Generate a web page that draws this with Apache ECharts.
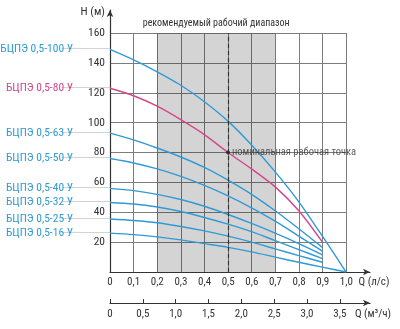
<!DOCTYPE html>
<html><head><meta charset="utf-8">
<script src="https://cdn.jsdelivr.net/npm/echarts@6/dist/echarts.min.js"></script>
<style>html,body{margin:0;padding:0;background:#fff}#c{width:400px;height:329px}</style>
</head><body><div id="c"></div>
<script>
// ---- data ----
const flowLs = [0, 0.1, 0.2, 0.3, 0.4, 0.5, 0.6, 0.7, 0.8, 0.9, 1.0];
const xTickLabels = ['0', '0,1', '0,2', '0,3', '0,4', '0,5', '0,6', '0,7', '0,8', '0,9', '1,0'];
const xAxisName = 'Q (л/с)';
const m3Ticks = [0, 0.5, 1.0, 1.5, 2.0, 2.5, 3.0, 3.5];
const m3Labels = ['0', '0,5', '1,0', '1,5', '2,0', '2,5', '3,0', '3,5'];
const m3AxisName = 'Q (м³/ч)';
const yAxisName = 'H (м)';
const yTicks = [20, 40, 60, 80, 100, 120, 140, 160];

const pumpNames = ['БЦПЭ 0,5-100 У', 'БЦПЭ 0,5-80 У', 'БЦПЭ 0,5-63 У', 'БЦПЭ 0,5-50 У',
                   'БЦПЭ 0,5-40 У', 'БЦПЭ 0,5-32 У', 'БЦПЭ 0,5-25 У', 'БЦПЭ 0,5-16 У'];
const h100 = [149, 142, 134, 125, 114, 101, 85, 67, 47, 24, 0];
const h80  = [123, 118, 111, 102, 92, 80, 69, 57, 41, 20];
const h63  = [93, 88.5, 83, 77, 70, 61.5, 52, 41, 29, 16.5];
const h50  = [76, 73, 69, 64, 58, 51, 43, 34, 24, 14];
const h40  = [56, 54.5, 52, 48.5, 44, 38.5, 32.5, 26, 19, 11.5];
const h32  = [46.5, 45.5, 43.5, 40.5, 36.5, 32, 27, 21, 15, 9];
const h25  = [35.5, 34.5, 33, 30.5, 27.5, 24, 20, 15.5, 11, 6.5];
const h16  = [26, 25, 23.5, 21.5, 19, 16.5, 13.5, 10, 6.5, 3.3, 0];

const rangeBand = [0.2, 0.7];
const rangeTitle = 'рекомендуемый рабочий диапазон';
const nominalPoint = [0.5, 80];
const nominalLabel = 'номинальная рабочая точка';

// ---- styling ----
const BLUE = '#2f9ad6', PINK = '#d4458a', GRID = '#7d7d7d', AXIS = '#333', TXT = '#333';
const FONT = "'Liberation Sans Narrow', 'Roboto Condensed', 'Arial Narrow', sans-serif";
const LEADER = '\u2500'.repeat(8);
const curves = [h100, h80, h63, h50, h40, h32, h25, h16];
const curveColors = [BLUE, PINK, BLUE, BLUE, BLUE, BLUE, BLUE, BLUE];

const pumpSeries = curves.map((hs, k) => ({
  type: 'line', name: pumpNames[k], xAxisIndex: 0, yAxisIndex: 0,
  smooth: 0.3, symbol: 'circle', symbolSize: 0, showSymbol: true,
  lineStyle: { color: curveColors[k], width: 1.4 },
  itemStyle: { color: curveColors[k] },
  label: { show: false },
  emphasis: { disabled: true },
  z: 3,
  data: hs.map((h, i) => i === 0 ? {
    value: [flowLs[i], h],
    label: {
      show: true, position: 'left', distance: 0, verticalAlign: 'middle',
      formatter: '{t|' + pumpNames[k] + '}{l|' + LEADER + '}',
      rich: {
        t: { color: k === 1 ? PINK : BLUE, fontSize: 11.5, fontFamily: FONT, padding: [0, 2, 0, 0],
             lineHeight: 14, verticalAlign: 'middle' },
        l: { color: '#cccccc', fontSize: 10, fontFamily: 'DejaVu Sans', width: 35, overflow: 'truncate', ellipsis: '',
             lineHeight: 14, verticalAlign: 'middle' }
      }
    }
  } : [flowLs[i], h])
}));

const option = {
  animation: false,
  textStyle: { fontFamily: FONT },
  grid: [
    { left: 110, right: 54, top: 33, bottom: 57 },
    { left: 110, right: 30, top: 10, bottom: 57 },
    { left: 110, right: 30, top: 303, height: 0 }
  ],
  xAxis: [
    { gridIndex: 0, type: 'value', min: 0, max: 1.0, interval: 0.1,
      axisLine: { show: false }, axisTick: { show: false }, axisLabel: { show: false },
      splitLine: { show: true, lineStyle: { color: GRID, width: 1 } } },
    { gridIndex: 1, type: 'value', min: 0, max: 1.1, interval: 0.1,
      axisLine: { show: true, lineStyle: { color: AXIS, width: 1.2 }, symbol: ['none', 'arrow'], symbolSize: [5, 7] },
      axisTick: { show: false }, splitLine: { show: false },
      axisLabel: { color: TXT, fontSize: 11, fontFamily: FONT, margin: 5,
        formatter: v => { const i = Math.round(v * 10); return i < xTickLabels.length ? xTickLabels[i] : '{n|' + xAxisName + '}'; },
        rich: { n: { fontSize: 11, fontFamily: FONT, color: TXT, padding: [0, 0, 0, 8] } } } },
    { gridIndex: 2, type: 'value', min: 0, max: 3.96,
      axisLine: { show: true, lineStyle: { color: AXIS, width: 1.2 }, symbol: ['none', 'arrow'], symbolSize: [5, 7] },
      axisTick: { show: true, inside: true, length: 4, lineStyle: { color: AXIS }, customValues: m3Ticks },
      splitLine: { show: false },
      axisLabel: { color: TXT, fontSize: 11, fontFamily: FONT, margin: 6, customValues: m3Ticks.concat([3.96]),
        formatter: v => { const i = m3Ticks.indexOf(v); return i >= 0 ? m3Labels[i] : '{n|' + m3AxisName + '}'; },
        rich: { n: { fontSize: 11, fontFamily: FONT, color: TXT, padding: [0, 0, 0, 6] } } } }
  ],
  yAxis: [
    { gridIndex: 0, type: 'value', min: 0, max: 160, interval: 20,
      axisLine: { show: false }, axisTick: { show: false },
      axisLabel: { color: TXT, fontSize: 11.5, fontFamily: FONT, margin: 5, formatter: v => yTicks.indexOf(v) >= 0 ? String(v) : '' },
      splitLine: { show: true, lineStyle: { color: GRID, width: 1 } } },
    { gridIndex: 1, type: 'value', min: 0, max: 1,
      axisLine: { show: true, lineStyle: { color: AXIS, width: 1.2 }, symbol: ['none', 'arrow'], symbolSize: [5, 7] },
      axisTick: { show: false }, axisLabel: { show: false }, splitLine: { show: false },
      name: yAxisName, nameLocation: 'end', nameGap: -2,
      nameTextStyle: { color: TXT, fontSize: 11.5, fontFamily: FONT, align: 'right', verticalAlign: 'middle', padding: [4, 5, 0, 0] } },
    { gridIndex: 2, type: 'value', min: 0, max: 1, show: false }
  ],
  series: [
    { type: 'line', xAxisIndex: 0, yAxisIndex: 0, data: [], z: 1, silent: true,
      markArea: { silent: true, itemStyle: { color: 'rgba(0,0,0,0.17)' },
        label: { show: true, position: 'top', distance: 5, color: TXT, fontSize: 10, fontFamily: FONT, formatter: rangeTitle },
        data: [[{ xAxis: rangeBand[0] }, { xAxis: rangeBand[1] }]] } },
    { type: 'line', xAxisIndex: 0, yAxisIndex: 0, data: [], z: 2, silent: true,
      markLine: { silent: true, symbol: 'none', label: { show: false },
        lineStyle: { color: '#333', type: [4, 3], width: 1.2 },
        data: [{ xAxis: nominalPoint[0] }] } }
  ].concat(pumpSeries).concat([
    { type: 'scatter', xAxisIndex: 0, yAxisIndex: 0, z: 5, symbolSize: 4,
      itemStyle: { color: '#222' },
      label: { show: true, position: 'right', distance: 2, color: TXT, fontSize: 10.5, fontFamily: FONT, formatter: nominalLabel },
      data: [nominalPoint] }
  ])
};
const chart = echarts.init(document.getElementById('c'), null, { renderer: 'canvas' });
chart.setOption(option);
</script></body></html>
